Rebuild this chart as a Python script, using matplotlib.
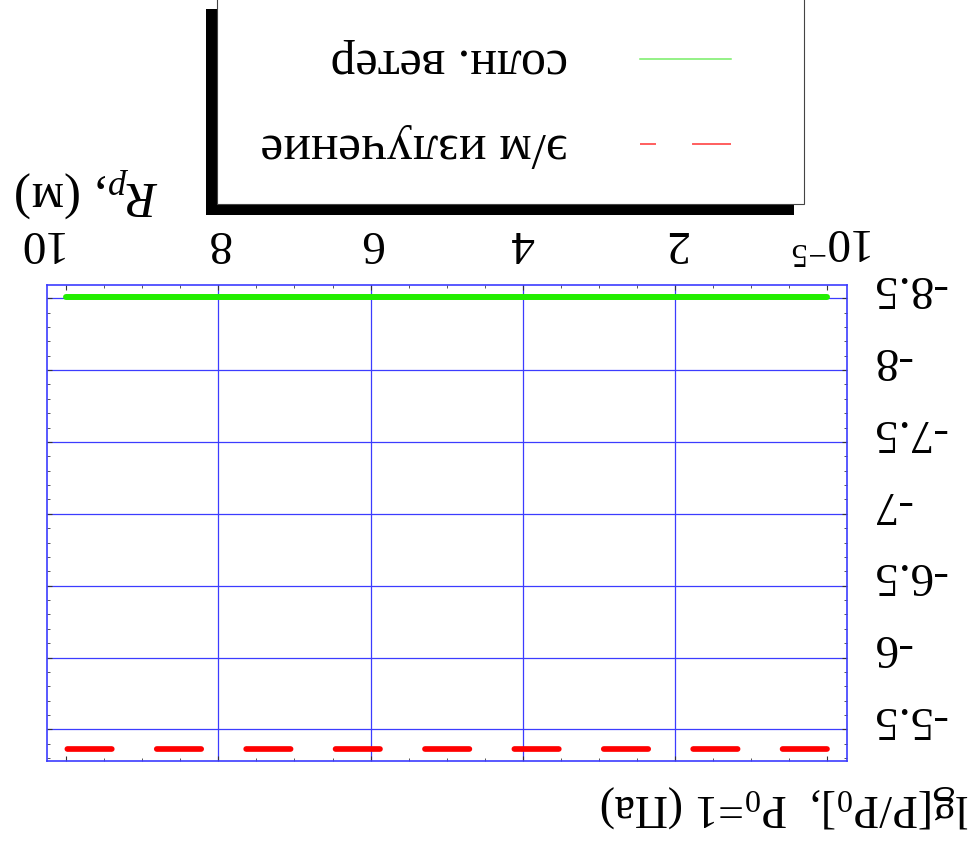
import matplotlib
matplotlib.use('Agg')
import matplotlib.pyplot as plt
from matplotlib.patches import Rectangle
from matplotlib.lines import Line2D
from matplotlib.ticker import MultipleLocator
from matplotlib.transforms import ScaledTranslation

plt.rcParams['font.family'] = ['Liberation Serif', 'DejaVu Serif']
plt.rcParams['mathtext.fontset'] = 'custom'
plt.rcParams['mathtext.rm'] = 'Liberation Serif'
plt.rcParams['mathtext.it'] = 'Liberation Serif:italic'

# data (the whole picture is upside down, so axes are inverted and text turned 180)
r_vals = [1e-5, 10]
wind_lg = [-8.51, -8.51]
rad_lg = [-5.36, -5.36]
x_ticks = [1e-5, 2, 4, 6, 8, 10]
x_labels = ['$10^{\\mathrm{-}5}$', '2', '4', '6', '8', '10']
y_ticks = [-8.5, -8, -7.5, -7, -6.5, -6, -5.5]
y_labels = ['-8.5', '-8', '-7.5', '-7', '-6.5', '-6', '-5.5']
grid_x = [2, 4, 6, 8]
names = ['солн. ветер', 'э/м излучение']

frame_col = '#3c3cff'

fig = plt.figure(figsize=(9.73, 8.46), dpi=100)
ax = fig.add_axes([0.048, 0.1005, 0.8222, 0.5623])

#grid first so the curves sit on top
for gx in grid_x:
    ax.axvline(gx, color=frame_col, lw=0.9, zorder=1)
for gy in y_ticks:
    ax.axhline(gy, color=frame_col, lw=0.9, zorder=1)

ax.plot(r_vals, wind_lg, color='#22ee00', lw=4.3, solid_capstyle='round', zorder=3)
ax.plot(r_vals, rad_lg, color='#ff0000', lw=4.1, linestyle=(0, (7.8, 7.9)),
        dash_capstyle='round', zorder=3)

ax.set_xlim(10.256, -0.256)
ax.set_ylim(-5.28, -8.59)

ax.set_xticks(x_ticks)
ax.set_xticklabels(x_labels)
ax.set_yticks(y_ticks)
ax.set_yticklabels(y_labels)
ax.xaxis.set_minor_locator(MultipleLocator(0.5))
ax.yaxis.set_minor_locator(MultipleLocator(0.1))

ax.tick_params(axis='x', which='both', direction='in', top=True, bottom=True,
               labeltop=True, labelbottom=False, labelrotation=180, pad=16, labelsize=34)
ax.tick_params(axis='y', which='both', direction='in', left=True, right=True,
               labelright=True, labelleft=False, labelrotation=180, pad=18, labelsize=34)
ax.tick_params(which='major', length=3.6, width=0.8, color='#333333')
ax.tick_params(which='minor', length=2.2, width=0.7, color='#555555')

#nudge labels to where the reference has them
up = ScaledTranslation(0, 0.11, fig.dpi_scale_trans)
for t in ax.yaxis.get_major_ticks():
    t.label2.set_verticalalignment('center')
    t.label2.set_transform(t.label2.get_transform() + up)
xt = ax.xaxis.get_major_ticks()
xt[-1].label2.set_horizontalalignment('right')
xt[-1].label2.set_transform(xt[-1].label2.get_transform() + ScaledTranslation(-0.05, 0, fig.dpi_scale_trans))
xt[0].label2.set_transform(xt[0].label2.get_transform() + ScaledTranslation(0.06, 0.03, fig.dpi_scale_trans))

for sp in ax.spines.values():
    sp.set_color(frame_col)
    sp.set_linewidth(1.2)

#axis labels
fig.text(0.996, 0.047, 'lg[P/P$_0$],  P$_0$=1 (Па)', fontsize=33, rotation=180,
         ha='right', va='center')
fig.text(0.0154, 0.774, '$R_p$, (м)', fontsize=37, rotation=180, ha='left', va='center')

#legend box with shadow
W, H = 973.0, 846.0
fig.patches.append(Rectangle((206 / W, 1 - 215 / H), 588 / W, 206 / H,
                             transform=fig.transFigure, facecolor='black', edgecolor='none'))
fig.patches.append(Rectangle((216.7 / W, 1 - 204 / H), 587.3 / W, 210 / H,
                             transform=fig.transFigure, facecolor='white',
                             edgecolor='#444444', lw=0.8))
fig.lines.append(Line2D([640 / W, 730.7 / W], [1 - 59 / H, 1 - 59 / H],
                        transform=fig.transFigure, color='#77ee66', lw=1.1))
fig.lines.append(Line2D([730.7 / W, 640 / W], [1 - 144.3 / H, 1 - 144.3 / H],
                        transform=fig.transFigure, color='#ff3333', lw=1.1,
                        linestyle=(0, (25.5, 23.6))))
fig.text(568 / W, 1 - 61 / H, names[0], fontsize=36, rotation=180, ha='right', va='center')
fig.text(568 / W, 1 - 146 / H, names[1], fontsize=37, rotation=180, ha='right', va='center')

fig.savefig('out.png', dpi=100)
